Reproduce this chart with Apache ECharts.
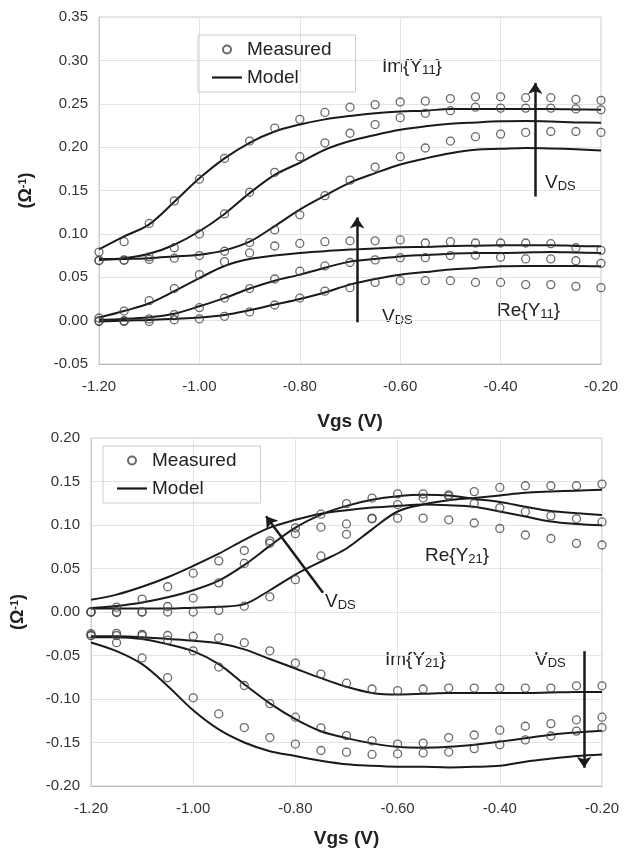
<!DOCTYPE html>
<html>
<head>
<meta charset="utf-8">
<script src="https://cdn.jsdelivr.net/npm/echarts@6.0.0/dist/echarts.min.js"></script>
<style>
	html, body { margin: 0; padding: 0; background: #fff; }
	#chart { width: 628px; height: 849px; }
</style>
</head>
<body>
<div id="chart"></div>
<script>
// gate voltage sweep, shared by both panels
const vgs = [-1.20, -1.15, -1.10, -1.05, -1.00, -0.95, -0.90, -0.85, -0.80, -0.75, -0.70,
	-0.65, -0.60, -0.55, -0.50, -0.45, -0.40, -0.35, -0.30, -0.25, -0.20];

// top panel: Y11
const imY11Meas1 = [0.079, 0.091, 0.112, 0.138, 0.163, 0.187, 0.207, 0.222, 0.232, 0.240, 0.246, 0.249, 0.252, 0.253, 0.256, 0.258, 0.258, 0.257, 0.257, 0.255, 0.254];
const imY11Meas2 = [0.0695, 0.070, 0.0735, 0.084, 0.100, 0.123, 0.148, 0.171, 0.189, 0.205, 0.216, 0.226, 0.234, 0.239, 0.242, 0.246, 0.245, 0.245, 0.245, 0.244, 0.243];
const imY11Meas3 = [0.069, 0.0695, 0.0705, 0.072, 0.075, 0.080, 0.090, 0.1045, 0.122, 0.144, 0.162, 0.177, 0.189, 0.199, 0.207, 0.212, 0.215, 0.217, 0.218, 0.218, 0.217];
const reY11Meas1 = [0.003, 0.011, 0.023, 0.037, 0.053, 0.068, 0.078, 0.086, 0.089, 0.091, 0.092, 0.092, 0.093, 0.0895, 0.091, 0.0895, 0.0895, 0.0895, 0.0887, 0.084, 0.081];
const reY11Meas2 = [0.000, 0.000, 0.002, 0.007, 0.015, 0.026, 0.037, 0.048, 0.057, 0.063, 0.067, 0.070, 0.0726, 0.0726, 0.075, 0.0753, 0.073, 0.0711, 0.0711, 0.069, 0.066];
const reY11Meas3 = [-0.001, -0.001, -0.001, 0.001, 0.002, 0.005, 0.010, 0.018, 0.026, 0.034, 0.038, 0.044, 0.046, 0.046, 0.046, 0.044, 0.044, 0.0415, 0.0415, 0.0395, 0.038];

const imY11Mod1 = [0.082, 0.097, 0.111, 0.137, 0.164, 0.187, 0.205, 0.218, 0.226, 0.232, 0.236, 0.239, 0.241, 0.242, 0.244, 0.244, 0.244, 0.244, 0.244, 0.2435, 0.243];
const imY11Mod2 = [0.071, 0.072, 0.077, 0.0875, 0.103, 0.123, 0.147, 0.168, 0.182, 0.197, 0.207, 0.214, 0.220, 0.224, 0.227, 0.2285, 0.2297, 0.230, 0.2295, 0.2285, 0.228];
const imY11Mod3 = [0.070, 0.071, 0.072, 0.074, 0.076, 0.081, 0.091, 0.109, 0.128, 0.144, 0.159, 0.170, 0.180, 0.187, 0.193, 0.197, 0.198, 0.199, 0.1985, 0.1975, 0.196];
const reY11Mod1 = [0.0035, 0.011, 0.020, 0.034, 0.049, 0.063, 0.071, 0.075, 0.078, 0.080, 0.082, 0.083, 0.0845, 0.085, 0.086, 0.0864, 0.0868, 0.087, 0.087, 0.086, 0.0856];
const reY11Mod2 = [0.001, 0.002, 0.004, 0.008, 0.0165, 0.026, 0.037, 0.046, 0.053, 0.061, 0.068, 0.071, 0.074, 0.0757, 0.0772, 0.078, 0.078, 0.0785, 0.079, 0.0785, 0.078];
const reY11Mod3 = [-0.001, 0.000, 0.0007, 0.002, 0.0035, 0.0065, 0.012, 0.0185, 0.025, 0.0325, 0.0415, 0.048, 0.053, 0.056, 0.0588, 0.0607, 0.0626, 0.063, 0.063, 0.063, 0.0626];

// bottom panel: Y21
const reY21Meas1 = [0.000, 0.0056, 0.0149, 0.029, 0.0446, 0.0588, 0.0707, 0.0818, 0.090, 0.0975, 0.1012, 0.1079, 0.1079, 0.1079, 0.106, 0.1023, 0.096, 0.0885, 0.0845, 0.0789, 0.077];
const reY21Meas2 = [0.000, 0.000, 0.000, 0.0063, 0.016, 0.0335, 0.0558, 0.079, 0.0967, 0.1124, 0.1246, 0.131, 0.1358, 0.1358, 0.1347, 0.1246, 0.1198, 0.1153, 0.1105, 0.1071, 0.1035];
const reY21Meas3 = [0.000, -0.0006, 0.000, 0.000, 0.000, 0.0019, 0.0067, 0.0175, 0.0372, 0.0644, 0.0893, 0.107, 0.1235, 0.131, 0.1332, 0.1384, 0.1432, 0.1451, 0.1451, 0.1451, 0.147];
const imY21Meas1 = [-0.025, -0.0246, -0.0257, -0.027, -0.0279, -0.0298, -0.0353, -0.0446, -0.0588, -0.0714, -0.0818, -0.0885, -0.0904, -0.0885, -0.0874, -0.0874, -0.0874, -0.0874, -0.0874, -0.0848, -0.0848];
const imY21Meas2 = [-0.027, -0.027, -0.027, -0.0324, -0.0446, -0.0633, -0.0845, -0.1053, -0.1209, -0.1332, -0.1421, -0.1481, -0.1518, -0.1507, -0.1443, -0.1414, -0.1358, -0.1313, -0.1283, -0.1239, -0.1209];
const imY21Meas3 = [-0.027, -0.0353, -0.0528, -0.0755, -0.0986, -0.1172, -0.1328, -0.1443, -0.1518, -0.1592, -0.1611, -0.1637, -0.163, -0.162, -0.161, -0.157, -0.1525, -0.147, -0.1425, -0.1369, -0.1328];

const reY21Mod1 = [0.014, 0.020, 0.029, 0.040, 0.053, 0.067, 0.083, 0.097, 0.106, 0.113, 0.117, 0.120, 0.122, 0.1235, 0.1228, 0.121, 0.1154, 0.1098, 0.104, 0.1012, 0.0997];
const reY21Mod2 = [0.0045, 0.007, 0.011, 0.017, 0.025, 0.036, 0.054, 0.076, 0.097, 0.112, 0.122, 0.129, 0.133, 0.1347, 0.134, 0.130, 0.1265, 0.121, 0.116, 0.1135, 0.1116];
const reY21Mod3 = [0.004, 0.004, 0.004, 0.004, 0.005, 0.006, 0.009, 0.025, 0.043, 0.058, 0.073, 0.095, 0.1155, 0.1235, 0.1284, 0.131, 0.134, 0.137, 0.1384, 0.1395, 0.1406];
const imY21Mod1 = [-0.028, -0.028, -0.029, -0.031, -0.033, -0.036, -0.043, -0.054, -0.065, -0.076, -0.086, -0.093, -0.0948, -0.094, -0.093, -0.093, -0.093, -0.093, -0.0925, -0.092, -0.092];
const imY21Mod2 = [-0.029, -0.029, -0.031, -0.037, -0.045, -0.060, -0.083, -0.105, -0.123, -0.137, -0.145, -0.151, -0.155, -0.156, -0.155, -0.1525, -0.149, -0.145, -0.141, -0.1385, -0.1365];
const imY21Mod3 = [-0.035, -0.045, -0.060, -0.085, -0.113, -0.135, -0.150, -0.160, -0.1655, -0.171, -0.175, -0.1767, -0.1778, -0.178, -0.1786, -0.178, -0.1767, -0.172, -0.1685, -0.1655, -0.1637];

// VDS arrows, in data coordinates [from, to]
const arrowsTop = [
	[[-0.331, 0.143], [-0.331, 0.274]],
	[[-0.686, -0.002], [-0.686, 0.119]]
];
const arrowsBottom = [
	[[-0.746, 0.022], [-0.8575, 0.110]],
	[[-0.235, -0.045], [-0.235, -0.179]]
];

const FONT = '"Liberation Sans", Arial, sans-serif';
const INK = '#1a1a1a';

function zip(ys) {
	return vgs.map((x, i) => [x, ys[i]]);
}

function measured(ys, g) {
	return {
		type: 'scatter', name: 'Measured', xAxisIndex: g, yAxisIndex: g,
		data: zip(ys), symbol: 'circle', symbolSize: 8, silent: true, z: 3,
		itemStyle: { color: 'rgba(255,255,255,0)', borderColor: '#444', borderWidth: 1.3 }
	};
}

function model(ys, g) {
	return {
		type: 'line', name: 'Model', xAxisIndex: g, yAxisIndex: g,
		data: zip(ys), smooth: 0.35, symbol: 'none', showSymbol: false, silent: true, z: 2,
		lineStyle: { color: INK, width: 2 }, itemStyle: { color: INK }
	};
}

function arrows(list) {
	return {
		silent: true, symbol: ['none', 'arrow'], symbolSize: 11, animation: false,
		label: { show: false },
		lineStyle: { color: INK, width: 2.5, type: 'solid' },
		data: list.map(a => [{ coord: a[0] }, { coord: a[1] }])
	};
}

function note(x, y, text) {
	return {
		type: 'text', x: x, y: y, silent: true,
		style: {
			text: text, fill: '#222', fontSize: 19, fontFamily: FONT,
			verticalAlign: 'middle', lineHeight: 20,
			rich: { s: { fontSize: 13, fontFamily: FONT, fill: '#222', verticalAlign: 'bottom', lineHeight: 13 } }
		}
	};
}

function xAxis(g, gap) {
	return {
		gridIndex: g, type: 'value', min: -1.2, max: -0.2, interval: 0.2,
		name: 'Vgs (V)', nameLocation: 'middle', nameGap: gap,
		nameTextStyle: { fontSize: 19, fontWeight: 'bold', color: '#222', fontFamily: FONT },
		axisLine: { onZero: false, lineStyle: { color: '#bbb' } },
		axisTick: { show: false },
		axisLabel: { formatter: v => v.toFixed(2), fontSize: 15, color: '#333', margin: 15, fontFamily: FONT },
		splitLine: { lineStyle: { color: '#e3e3e3' } }
	};
}

function yAxis(g, min, max) {
	return {
		gridIndex: g, type: 'value', min: min, max: max, interval: 0.05,
		name: '(Ω{sup|-1})', nameLocation: 'middle', nameGap: 64,
		nameTextStyle: {
			fontSize: 18, fontWeight: 'bold', color: '#222', fontFamily: FONT,
			rich: { sup: { fontSize: 11, fontWeight: 'bold', color: '#222', fontFamily: FONT, verticalAlign: 'top', lineHeight: 11 } }
		},
		axisLine: { onZero: false, lineStyle: { color: '#ccc' } },
		axisTick: { show: false },
		axisLabel: { formatter: v => v.toFixed(2), fontSize: 15, color: '#333', margin: 11, fontFamily: FONT },
		splitLine: { lineStyle: { color: '#e3e3e3' } }
	};
}

function legend(left, top) {
	return {
		left: left, top: top, orient: 'vertical',
		data: [
			{ name: 'Measured' },
			{ name: 'Model', icon: 'path://M0,0H30V2.2H0Z' }
		],
		itemWidth: 30, itemHeight: 8, itemGap: 9, padding: [5, 24, 5, 14],
		symbolKeepAspect: true,
		borderColor: '#ccc', borderWidth: 1, selectedMode: false,
		textStyle: { fontSize: 19, color: '#222', fontFamily: FONT }
	};
}

var chart = echarts.init(document.getElementById('chart'), null, { renderer: 'canvas' });

var topModels = [imY11Mod1, imY11Mod2, imY11Mod3, reY11Mod1, reY11Mod2, reY11Mod3].map(d => model(d, 0));
var bottomModels = [reY21Mod1, reY21Mod2, reY21Mod3, imY21Mod1, imY21Mod2, imY21Mod3].map(d => model(d, 1));
topModels[0].markLine = arrows(arrowsTop);
bottomModels[0].markLine = arrows(arrowsBottom);

chart.setOption({
	animation: false,
	textStyle: { fontFamily: FONT },
	grid: [
		{ left: 99, right: 27, top: 17, height: 347, show: true, borderColor: '#ccc', borderWidth: 1 },
		{ left: 91, right: 26, top: 438, height: 357, show: true, borderColor: '#ccc', borderWidth: 1 }
	],
	xAxis: [xAxis(0, 48), xAxis(1, 43)],
	yAxis: [yAxis(0, -0.05, 0.35), yAxis(1, -0.2, 0.2)],
	legend: [legend(198, 35), legend(103, 446)],
	series: [].concat(
		topModels,
		[imY11Meas1, imY11Meas2, imY11Meas3, reY11Meas1, reY11Meas2, reY11Meas3].map(d => measured(d, 0)),
		bottomModels,
		[reY21Meas1, reY21Meas2, reY21Meas3, imY21Meas1, imY21Meas2, imY21Meas3].map(d => measured(d, 1))
	),
	graphic: [
		note(382, 67, 'Im{Y{s|11}}'),
		note(545, 183, 'V{s|DS}'),
		note(382, 317, 'V{s|DS}'),
		note(497, 311, 'Re{Y{s|11}}'),
		note(425, 556, 'Re{Y{s|21}}'),
		note(325, 602, 'V{s|DS}'),
		note(385, 660, 'Im{Y{s|21}}'),
		note(535, 660, 'V{s|DS}')
	]
});
</script>
</body>
</html>
